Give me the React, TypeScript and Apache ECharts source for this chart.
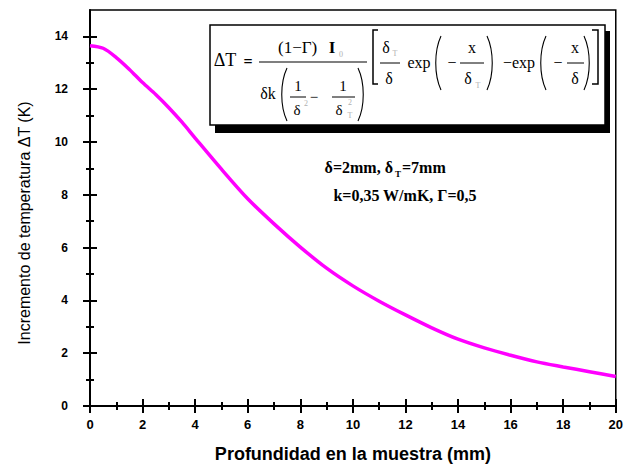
import React, { useEffect, useRef } from "react";
import * as echarts from "echarts";

const depthMm = [0, 0.5, 1, 1.5, 2, 2.5, 3, 3.5, 4, 5, 6, 7, 8, 9, 10, 11, 12, 13, 14, 15, 16, 17, 18, 19, 20];
const deltaT = [13.65, 13.55, 13.2, 12.75, 12.25, 11.8, 11.3, 10.75, 10.15, 8.97, 7.85, 6.9, 6.02, 5.22, 4.55, 3.97, 3.45, 2.96, 2.53, 2.2, 1.92, 1.67, 1.48, 1.3, 1.12];

const xMajor = [0, 2, 4, 6, 8, 10, 12, 14, 16, 18, 20];
const xMinor = [1, 3, 5, 7, 9, 11, 13, 15, 17, 19];
const yMajor = [0, 2, 4, 6, 8, 10, 12, 14];
const yMinor = [1, 3, 5, 7, 9, 11, 13];

const xTitle = "Profundidad en la muestra (mm)";
const yTitle = "Incremento de temperatura ΔT (K)";

const SERIF = "Liberation Serif";
const SANS = "Liberation Sans";

function t(text: string, x: number, y: number, size = 17, extra: any = {}) {
  const align = extra.align || "center";
  return {
    type: "text",
    x,
    y,
    z: 20,
    style: {
      text,
      fontFamily: SERIF,
      fontSize: size,
      fontWeight: extra.weight || "normal",
      fill: extra.fill || "#000",
      align,
      textAlign: align,
      verticalAlign: "middle",
      textVerticalAlign: "middle",
    },
  };
}
function ln(x1: number, y1: number, x2: number, y2: number, w = 1.2) {
  return { type: "line", z: 20, shape: { x1, y1, x2, y2 }, style: { stroke: "#000", lineWidth: w } };
}
function paren(xc: number, top: number, bottom: number, left: boolean) {
  const s = left ? 1 : -1;
  return {
    type: "bezierCurve",
    z: 20,
    shape: {
      x1: xc + 3 * s,
      y1: top,
      x2: xc + 3 * s,
      y2: bottom,
      cpx1: xc - 4 * s,
      cpy1: top + (bottom - top) * 0.28,
      cpx2: xc - 4 * s,
      cpy2: bottom - (bottom - top) * 0.28,
    },
    style: { stroke: "#000", lineWidth: 1.1, fill: null },
  };
}

const GRAY = "#b0b0b0";

function formulaGraphics() {
  return [
    { type: "rect", z: 10, shape: { x: 215, y: 31, width: 395, height: 102 }, style: { fill: "#000" } },
    { type: "rect", z: 11, shape: { x: 210, y: 25, width: 395, height: 100 }, style: { fill: "#fff", stroke: "#000", lineWidth: 1.5 } },
    t("ΔT", 225, 60, 18),
    t("=", 248, 61, 16, { weight: "bold" }),
    t("(1−Γ)", 278, 47, 17, { align: "left" }),
    t("I", 332, 47, 17, { weight: "bold" }),
    t("0", 341, 54, 8, { fill: GRAY }),
    ln(259, 62, 367, 62),
    t("δk", 268, 93, 16),
    paren(284, 68, 121, true),
    t("1", 298, 86, 15),
    ln(290, 97, 306, 97, 1),
    t("δ", 297, 110, 15),
    t("2", 306, 103, 8, { fill: GRAY }),
    t("−", 314, 97, 15),
    t("1", 343, 86, 15),
    ln(332, 97, 355, 97, 1),
    t("δ", 339, 110, 15),
    t("2", 350, 102, 8, { fill: GRAY }),
    t("T", 350, 115, 8, { fill: GRAY }),
    paren(361, 68, 121, false),
    { type: "polyline", z: 20, shape: { points: [[378, 30], [373, 30], [373, 84], [378, 84]] }, style: { stroke: "#000", lineWidth: 1.5, fill: null } },
    t("δ", 386, 47, 16),
    t("T", 395, 53, 8, { fill: GRAY }),
    ln(380, 63, 400, 63, 1),
    t("δ", 389, 78, 16),
    t("exp", 419, 62, 16),
    paren(438, 36, 90, true),
    t("−", 452, 62, 16),
    t("x", 472, 47, 16),
    ln(460, 63, 484, 63, 1),
    t("δ", 468, 78, 16),
    t("T", 478, 85, 8, { fill: GRAY }),
    paren(490, 36, 90, false),
    t("−exp", 519, 62, 16),
    paren(543, 36, 90, true),
    t("−", 558, 62, 16),
    t("x", 575, 47, 16),
    ln(567, 63, 584, 63, 1),
    t("δ", 575, 78, 16),
    paren(587, 36, 90, false),
    { type: "polyline", z: 20, shape: { points: [[592, 30], [598, 30], [598, 84], [592, 84]] }, style: { stroke: "#000", lineWidth: 1.5, fill: null } },
    // parameters
    t("δ=2mm, δ", 393, 167, 16, { weight: "bold", align: "right" }),
    t("T", 398, 174, 9, { weight: "bold" }),
    t("=7mm", 402, 167, 16, { weight: "bold", align: "left" }),
    t("k=0,35 W/mK, Γ=0,5", 405, 195, 16, { weight: "bold" }),
  ];
}

function tickAxis(kind: "x" | "y", values: number[], length: number, inside: boolean) {
  return {
    type: "value",
    position: kind === "x" ? "bottom" : "left",
    min: 0,
    max: kind === "x" ? 20 : 15,
    axisLine: { show: false },
    axisLabel: { show: false },
    splitLine: { show: false },
    axisTick: { show: true, inside, length, customValues: values, lineStyle: { color: "#000", width: 2 } },
  };
}

export default function App() {
  const ref = useRef<HTMLDivElement>(null);
  useEffect(() => {
    if (!ref.current) return;
    const chart = echarts.init(ref.current, undefined, { renderer: "svg" });
    const data = depthMm.map((x, i) => [x, deltaT[i]]);
    chart.setOption({
      animation: false,
      backgroundColor: "#fff",
      grid: {
        left: 90,
        top: 10,
        right: 10,
        bottom: 59,
        show: true,
        borderColor: "#000",
        borderWidth: 1.5,
        backgroundColor: "transparent",
      },
      xAxis: [
        {
          type: "value",
          position: "bottom",
          min: 0,
          max: 20,
          axisLine: { show: true, onZero: false, lineStyle: { color: "#000", width: 2 } },
          axisTick: { show: true, length: 7, customValues: xMajor, lineStyle: { color: "#000", width: 2 } },
          axisLabel: { customValues: xMajor, margin: 12, color: "#000", fontFamily: SANS, fontWeight: "bold", fontSize: 13 },
          splitLine: { show: false },
          name: xTitle,
          nameLocation: "middle",
          nameGap: 39,
          nameTextStyle: { color: "#000", fontFamily: SANS, fontWeight: "bold", fontSize: 18 },
        },
        tickAxis("x", xMajor, 7, true),
        tickAxis("x", xMinor, 4, false),
        tickAxis("x", xMinor, 4, true),
      ],
      yAxis: [
        {
          type: "value",
          position: "left",
          min: 0,
          max: 15,
          axisLine: { show: true, onZero: false, lineStyle: { color: "#000", width: 2 } },
          axisTick: { show: true, length: 7, customValues: yMajor, lineStyle: { color: "#000", width: 2 } },
          axisLabel: { customValues: yMajor, margin: 22, color: "#000", fontFamily: SANS, fontWeight: "bold", fontSize: 12 },
          splitLine: { show: false },
          name: yTitle,
          nameLocation: "middle",
          nameGap: 58,
          nameTextStyle: { color: "#000", fontFamily: SANS, fontSize: 16, padding: [0, 30, 0, 0] },
        },
        tickAxis("y", yMajor, 7, true),
        tickAxis("y", yMinor, 4, false),
        tickAxis("y", yMinor, 4, true),
      ],
      series: [
        {
          type: "line",
          xAxisIndex: 0,
          yAxisIndex: 0,
          data,
          smooth: 0.3,
          showSymbol: false,
          lineStyle: { color: "#ff00ff", width: 3.5 },
          itemStyle: { color: "#ff00ff" },
        },
      ],
      graphic: formulaGraphics(),
    });
    return () => chart.dispose();
  }, []);
  return (
    <div
      ref={ref}
      style={{ position: "fixed", left: 0, top: 0, width: 626, height: 468, background: "#fff" }}
    />
  );
}
